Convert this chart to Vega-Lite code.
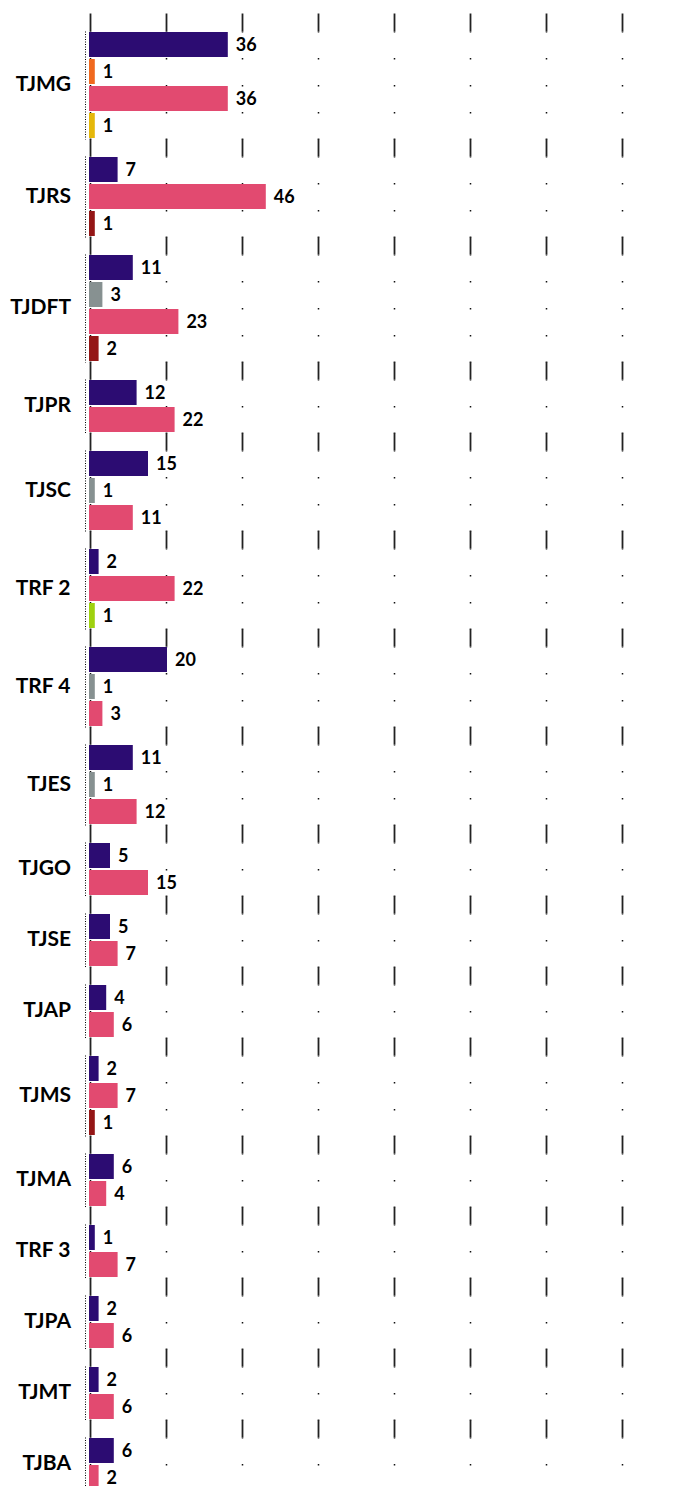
{
  "$schema": "https://vega.github.io/schema/vega-lite/v6.json",
  "padding": {"left": 10, "top": 12, "right": 0, "bottom": 0},
  "background": "white",
  "data": {
    "values": [
      {"court": "TJMG", "cat": "A", "value": 36},
      {"court": "TJMG", "cat": "B", "value": 1},
      {"court": "TJMG", "cat": "D", "value": 36},
      {"court": "TJMG", "cat": "E", "value": 1},
      {"court": "TJRS", "cat": "A", "value": 7},
      {"court": "TJRS", "cat": "D", "value": 46},
      {"court": "TJRS", "cat": "F", "value": 1},
      {"court": "TJDFT", "cat": "A", "value": 11},
      {"court": "TJDFT", "cat": "C", "value": 3},
      {"court": "TJDFT", "cat": "D", "value": 23},
      {"court": "TJDFT", "cat": "F", "value": 2},
      {"court": "TJPR", "cat": "A", "value": 12},
      {"court": "TJPR", "cat": "D", "value": 22},
      {"court": "TJSC", "cat": "A", "value": 15},
      {"court": "TJSC", "cat": "C", "value": 1},
      {"court": "TJSC", "cat": "D", "value": 11},
      {"court": "TRF 2", "cat": "A", "value": 2},
      {"court": "TRF 2", "cat": "D", "value": 22},
      {"court": "TRF 2", "cat": "G", "value": 1},
      {"court": "TRF 4", "cat": "A", "value": 20},
      {"court": "TRF 4", "cat": "C", "value": 1},
      {"court": "TRF 4", "cat": "D", "value": 3},
      {"court": "TJES", "cat": "A", "value": 11},
      {"court": "TJES", "cat": "C", "value": 1},
      {"court": "TJES", "cat": "D", "value": 12},
      {"court": "TJGO", "cat": "A", "value": 5},
      {"court": "TJGO", "cat": "D", "value": 15},
      {"court": "TJSE", "cat": "A", "value": 5},
      {"court": "TJSE", "cat": "D", "value": 7},
      {"court": "TJAP", "cat": "A", "value": 4},
      {"court": "TJAP", "cat": "D", "value": 6},
      {"court": "TJMS", "cat": "A", "value": 2},
      {"court": "TJMS", "cat": "D", "value": 7},
      {"court": "TJMS", "cat": "F", "value": 1},
      {"court": "TJMA", "cat": "A", "value": 6},
      {"court": "TJMA", "cat": "D", "value": 4},
      {"court": "TRF 3", "cat": "A", "value": 1},
      {"court": "TRF 3", "cat": "D", "value": 7},
      {"court": "TJPA", "cat": "A", "value": 2},
      {"court": "TJPA", "cat": "D", "value": 6},
      {"court": "TJMT", "cat": "A", "value": 2},
      {"court": "TJMT", "cat": "D", "value": 6},
      {"court": "TJBA", "cat": "A", "value": 6},
      {"court": "TJBA", "cat": "D", "value": 2}
    ]
  },
  "facet": {
    "row": {
      "field": "court",
      "type": "nominal",
      "sort": ["TJMG", "TJRS", "TJDFT", "TJPR", "TJSC", "TRF 2", "TRF 4", "TJES", "TJGO", "TJSE", "TJAP", "TJMS", "TJMA", "TRF 3", "TJPA", "TJMT", "TJBA"],
      "title": null,
      "header": {
        "labelOrient": "left",
        "labelAngle": 0,
        "labelAlign": "left",
        "labelFont": "Lato",
        "labelFontSize": 21,
        "labelFontWeight": "bold",
        "labelColor": "black",
        "labelPadding": 14
      }
    }
  },
  "spacing": -2,
  "resolve": {"scale": {"y": "independent"}, "axis": {"x": "independent"}},
  "spec": {
    "width": 570,
    "height": {"step": 27},
    "encoding": {
      "y": {
        "field": "cat",
        "type": "nominal",
        "sort": ["A", "B", "C", "D", "E", "F", "G"],
        "scale": {"paddingInner": 0.148, "paddingOuter": 0.074},
        "axis": {
          "title": null,
          "labels": false,
          "ticks": false,
          "domain": true,
          "domainColor": "black",
          "domainDash": [1, 1.5],
          "domainWidth": 1,
          "offset": 5,
          "grid": false
        }
      },
      "x": {
        "field": "value",
        "type": "quantitative",
        "scale": {"domain": [0, 150], "nice": false},
        "axis": {
          "orient": "top",
          "title": null,
          "values": [0, 20, 40, 60, 80, 100, 120, 140],
          "labels": false,
          "domain": false,
          "ticks": true,
          "tickSize": 18,
          "tickColor": "#222",
          "tickWidth": 1.8,
          "grid": true,
          "gridColor": "#111",
          "gridWidth": 1.5,
          "gridDash": [1.5, 25.5],
          "gridDashOffset": 0.5
        }
      }
    },
    "layer": [
      {
        "mark": {"type": "bar", "strokeWidth": 2},
        "encoding": {
          "color": {
            "field": "cat",
            "type": "nominal",
            "legend": null,
            "scale": {
              "domain": ["A", "B", "C", "D", "E", "F", "G"],
              "range": ["#2c0c72", "#f0691f", "#879191", "#e24a70", "#e5b80b", "#941616", "#9fd10f"]
            }
          },
          "stroke": {
            "field": "cat",
            "type": "nominal",
            "legend": null,
            "scale": {
              "domain": ["A", "B", "C", "D", "E", "F", "G"],
              "range": ["#2c0c72", "#f0691f", "#879191", "#e24a70", "#e5b80b", "#941616", "#9fd10f"]
            }
          }
        }
      },
      {
        "mark": {"type": "text", "align": "left", "baseline": "middle", "dx": 9, "dy": 1, "font": "Lato", "fontSize": 18, "fontWeight": "bold", "color": "black"},
        "encoding": {"text": {"field": "value", "type": "quantitative"}}
      }
    ]
  },
  "config": {"view": {"stroke": null}}
}
